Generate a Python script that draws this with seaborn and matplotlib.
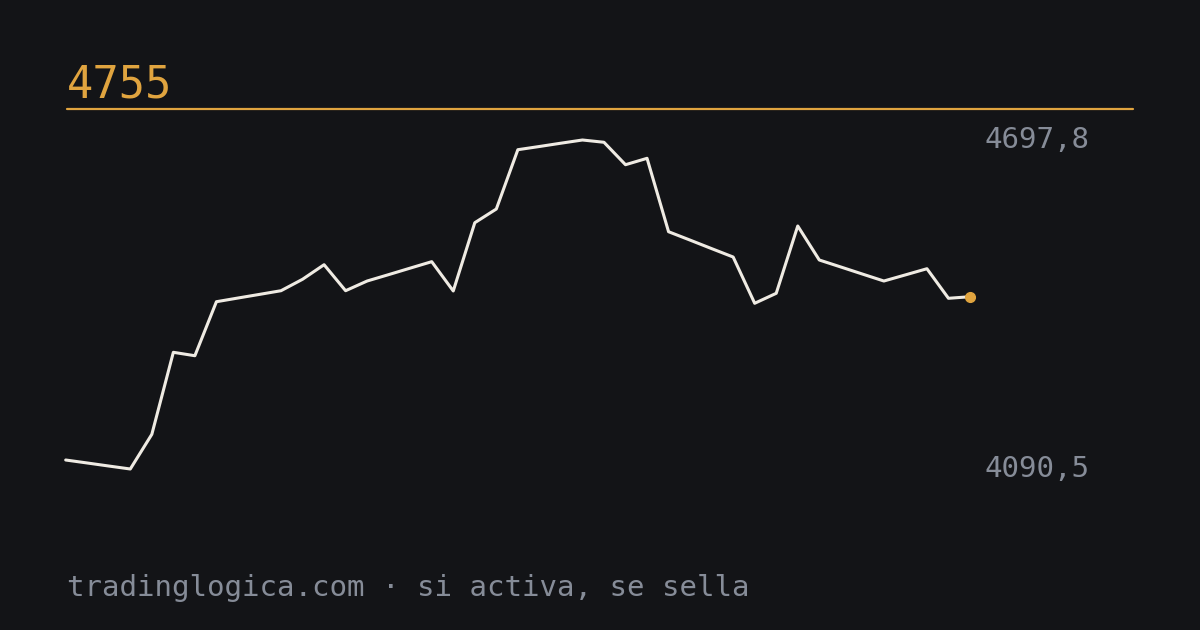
import numpy as np
import pandas as pd
import matplotlib
matplotlib.use("Agg")
import matplotlib.pyplot as plt
import seaborn as sns

# valores
titulo = "4755"
valor_max = 4697.8
valor_min = 4090.5
precios = [4107.1, 4101.6, 4096.0, 4090.5, 4154.5, 4305.9, 4299.6, 4399.3,
           4406.1, 4412.8, 4419.6, 4440.7, 4467.6, 4419.6, 4437.5, 4449.3,
           4461.3, 4473.2, 4419.1, 4545.1, 4570.4, 4679.9, 4685.8, 4691.9,
           4697.8, 4693.6, 4652.2, 4664.0, 4528.5, 4513.0, 4497.3, 4481.8,
           4396.4, 4414.8, 4539.1, 4476.3, 4463.4, 4450.4, 4437.5, 4448.8,
           4460.2, 4405.6, 4408.5]
pie = "tradinglogica.com \u00b7 si activa, se sella"

fondo = "#131417"
naranja = "#e0a43f"
gris = "#868c98"
linea = "#efebe3"

df = pd.DataFrame({"i": np.arange(len(precios)), "precio": precios})

sns.set_theme(style="dark")
plt.rcParams["font.family"] = ["DejaVu Sans Mono", "DejaVu Sans"]

fig = plt.figure(figsize=(12, 6.3), dpi=100, facecolor=fondo)
ax = fig.add_axes([65.7 / 1200, (630 - 469) / 630, (970 - 65.7) / 1200, 329 / 630])
ax.set_facecolor(fondo)
ax.patch.set_alpha(0)

sns.lineplot(data=df, x="i", y="precio", ax=ax, color=linea, linewidth=2.2,
             clip_on=False)
ax.plot(df["i"].iloc[-1], df["precio"].iloc[-1], "o", color=naranja,
        markersize=7, clip_on=False, zorder=5)

ax.set_xlim(0, len(precios) - 1)
ax.set_ylim(min(precios), max(precios))
ax.axis("off")

# titulo y regla
fig.text(67 / 1200, 1 - 98 / 630, titulo, color=naranja, fontsize=31.5,
         ha="left", va="baseline")
fig.add_artist(plt.Line2D([67 / 1200, 1133 / 1200], [1 - 109 / 630] * 2,
                          color=naranja, linewidth=1.6))

# etiquetas de max y min
fmt = lambda v: f"{v:.1f}".replace(".", ",")
fig.text(1090 / 1200, 1 - 140 / 630, fmt(valor_max), color=gris, fontsize=21,
         ha="right", va="center")
fig.text(1090 / 1200, 1 - 469 / 630, fmt(valor_min), color=gris, fontsize=21,
         ha="right", va="center")

fig.text(67 / 1200, 1 - 588 / 630, pie, color=gris, fontsize=21,
         ha="left", va="center")

fig.savefig("out.png", dpi=100, facecolor=fondo)
